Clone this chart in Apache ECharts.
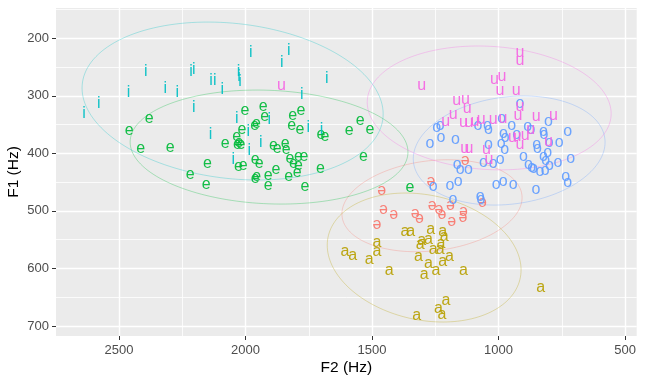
<!DOCTYPE html>
<html>
<head>
<meta charset="utf-8">
<script src="https://cdn.jsdelivr.net/npm/echarts@6/dist/echarts.min.js"></script>
<style>html,body{margin:0;padding:0;background:#fff}#c{width:646px;height:384px}</style>
</head>
<body>
<div id="c"></div>
<script>
// ---- data (F2 Hz, F1 Hz) ----
const vowels = ['ə', 'a', 'e', 'i', 'o', 'u'];
const schwaPts = [[1462,464],[1267,449],[1455,498],[1414,507],[1481,524],[1329,505],[1313,513],[1262,491],[1236,498],[1224,507],[1190,490],[1185,519],[1139,501],[1141,511],[1064,486],[1132,412]];
const aPts = [[1370,536],[1347,536],[1268,533],[1221,536],[1215,545],[1304,551],[1277,549],[1310,559],[1228,556],[1231,568],[1258,568],[1481,555],[1481,571],[1511,585],[1607,570],[1576,577],[1317,580],[1194,580],[1221,588],[1277,592],[1432,603],[1247,604],[1139,603],[1294,611],[833,634],[1208,655],[1238,669],[1224,681],[1323,682]];
const ePts = [[2381,339],[2460,361],[2414,391],[2298,390],[2150,418],[2219,436],[2155,454],[2002,325],[1930,318],[1924,336],[1957,348],[1964,351],[2014,358],[2035,371],[2026,381],[2018,384],[2032,385],[2080,383],[1962,410],[1946,417],[2028,423],[2009,421],[1962,443],[1956,441],[1910,438],[1880,428],[1910,456],[1890,387],[1875,392],[1843,383],[1839,393],[1814,334],[1781,325],[1817,351],[1785,359],[1702,368],[1686,371],[1590,360],[1547,343],[1508,359],[1534,406],[1704,426],[1824,409],[1811,417],[1791,406],[1769,406],[1796,433],[1791,422],[1829,441],[1765,457],[1350,460]];
const iPts = [[2638,330],[2580,314],[2462,295],[2394,258],[2317,287],[2270,295],[2215,258],[2204,255],[2136,274],[2121,274],[2092,289],[2028,257],[2026,267],[2022,276],[1979,225],[1857,243],[1829,221],[1778,297],[1679,270],[2204,320],[2138,367],[2035,339],[1989,362],[1940,382],[1985,395],[2048,410],[1906,342],[1752,355],[1700,359]];
const oPts = [[1271,383],[1244,356],[1231,351],[1228,372],[1170,376],[1081,351],[1044,351],[1040,358],[988,339],[948,352],[981,365],[974,373],[928,367],[915,314],[885,354],[872,358],[823,362],[821,367],[803,345],[727,362],[1040,384],[990,383],[976,394],[849,384],[846,391],[800,381],[760,381],[902,406],[823,405],[814,412],[806,398],[882,419],[869,425],[862,427],[836,432],[816,430],[799,421],[765,416],[715,409],[735,440],[727,450],[852,463],[993,410],[1021,417],[1060,416],[982,449],[1009,454],[942,454],[1163,420],[1152,429],[1119,429],[1159,449],[1192,456],[1258,458],[1073,475],[1070,480],[1180,480]];
const uPts = [[1858,282],[1304,283],[915,225],[915,238],[1016,272],[987,267],[994,290],[930,290],[1165,308],[1131,306],[1124,322],[915,318],[1209,344],[1179,333],[1139,347],[1117,347],[1093,345],[1069,342],[1021,341],[983,339],[923,335],[851,336],[783,335],[873,358],[945,372],[927,371],[895,369],[915,385],[803,380],[1134,392],[1117,391],[1048,394],[1038,410]];

// ellipse parameters per vowel: centre, and two conjugate semi-axis vectors (Hz)
const ellipseCentre = [[1263,491],[1294,581],[1907,389],[2051,309],[958,395],[1037,321]];
const ellipseAxisU  = [[-356,-14.1],[-383,21.5],[-549,8.7],[-595,22.5],[-379,-14.4],[-482,9.9]];
const ellipseAxisV  = [[0,78.7],[0,110],[0,98.7],[0,135.4],[0,93.7],[0,107.2]];

const xMajor = [500,1000,1500,2000,2500];
const xMinor = [750,1250,1750,2250];
const yMajor = [200,300,400,500,600,700];
const yMinor = [150,250,350,450,550,650];

// ---- styles ----
const palette = ['#F8766D','#B79F00','#00BA38','#00BFC4','#619CFF','#F564E3'];
const pointSets = [schwaPts, aPts, ePts, iPts, oPts, uPts];
const FONT = "'Liberation Sans', Arial, sans-serif";
const X_MIN = 454, X_MAX = 2749, Y_MIN = 147.3, Y_MAX = 717.4;

const chart = echarts.init(document.getElementById('c'), null, {renderer: 'canvas'});

function axisX(minor) {
  return {
    type: 'value', inverse: true, min: X_MIN, max: X_MAX, position: 'bottom',
    name: minor ? '' : 'F2 (Hz)', nameLocation: 'middle', nameGap: 24, nameMoveOverlap: false,
    nameTextStyle: {color: '#000', fontSize: 15.5, fontFamily: FONT},
    axisLine: {show: false},
    axisTick: {show: !minor, length: 4, lineStyle: {color: '#333', width: 1}, customValues: minor ? xMinor : xMajor},
    axisLabel: {show: !minor, color: '#4D4D4D', fontSize: 13, fontFamily: FONT, margin: 8, customValues: xMajor, formatter: v => String(v)},
    splitLine: {show: true, lineStyle: {color: '#FFFFFF', width: minor ? 0.8 : 1.4}}
  };
}
function axisY(minor) {
  return {
    type: 'value', inverse: true, min: Y_MIN, max: Y_MAX, position: 'left',
    name: minor ? '' : 'F1 (Hz)', nameLocation: 'middle', nameGap: 34, nameMoveOverlap: false,
    nameTextStyle: {color: '#000', fontSize: 15.5, fontFamily: FONT},
    axisLine: {show: false},
    axisTick: {show: !minor, length: 4, lineStyle: {color: '#333', width: 1}, customValues: minor ? yMinor : yMajor},
    axisLabel: {show: !minor, color: '#4D4D4D', fontSize: 13, fontFamily: FONT, margin: 7, customValues: yMajor, formatter: v => String(v)},
    splitLine: {show: true, lineStyle: {color: '#FFFFFF', width: minor ? 0.8 : 1.4}}
  };
}

const series = [];
vowels.forEach((v, k) => {
  series.push({
    type: 'custom', xAxisIndex: 0, yAxisIndex: 0, z: 2, silent: true, clip: true,
    data: [[ellipseCentre[k][0], ellipseCentre[k][1], ellipseAxisU[k][0], ellipseAxisU[k][1], ellipseAxisV[k][0], ellipseAxisV[k][1]]],
    encode: {x: 0, y: 1},
    renderItem: function (params, api) {
      const cx = api.value(0), cy = api.value(1), ux = api.value(2), uy = api.value(3), vx = api.value(4), vy = api.value(5);
      const pts = [];
      for (let s = 0; s <= 160; s++) {
        const t = 2 * Math.PI * s / 160;
        pts.push(api.coord([cx + Math.cos(t) * ux + Math.sin(t) * vx, cy + Math.cos(t) * uy + Math.sin(t) * vy]));
      }
      return {type: 'polyline', shape: {points: pts}, style: {stroke: palette[k], fill: null, lineWidth: 1, opacity: 0.3}};
    }
  });
});
vowels.forEach((v, k) => {
  series.push({
    type: 'scatter', xAxisIndex: 0, yAxisIndex: 0, z: 3, silent: true,
    symbolSize: 1, itemStyle: {color: 'rgba(0,0,0,0)'},
    data: pointSets[k],
    label: {show: true, position: 'inside', formatter: v, color: palette[k], fontSize: 16, fontFamily: FONT, opacity: 0.92}
  });
});

chart.setOption({
  animation: false,
  backgroundColor: '#FFFFFF',
  grid: {left: 56, right: 9.3, top: 8, bottom: 48, show: true, backgroundColor: '#EBEBEB', borderWidth: 0, outerBoundsMode: 'none', containLabel: false},
  xAxis: [axisX(false), axisX(true)],
  yAxis: [axisY(false), axisY(true)],
  series: series
});
</script>
</body>
</html>
